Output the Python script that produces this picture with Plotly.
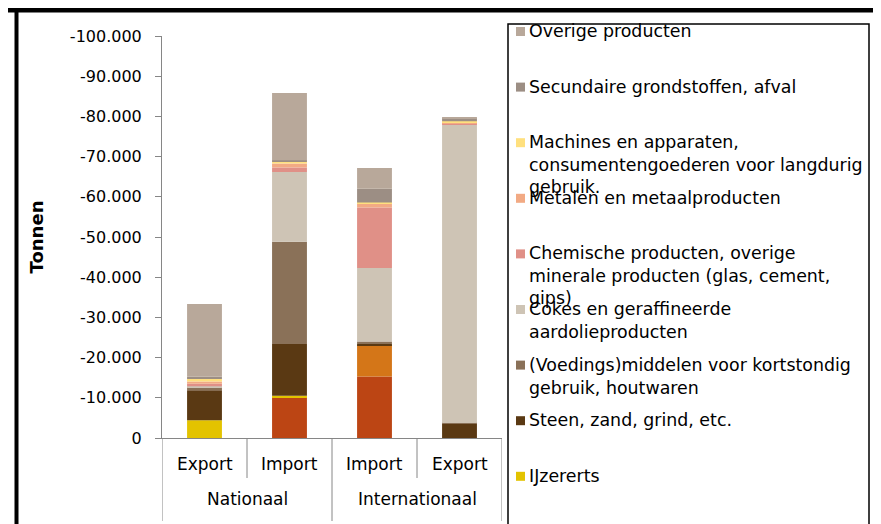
import plotly.graph_objects as go

# categories (two-level axis)
groups = ["Nationaal", "Internationaal"]
flows = ["Export", "Import", "Import", "Export"]
cats = ["Nationaal Export", "Nationaal Import", "Internationaal Import", "Internationaal Export"]

# series, bottom of the stack first (values in tonnes, negative)
ruwe_olie = [0, -10100, -15300, 0]
kolen = [0, 0, -7600, 0]
ijzererts = [-4400, -400, -100, 0]
steen = [-7450, -12900, -400, -3500]
voeding = [-750, -25400, -600, -250]
cokes = [-250, -17400, -18300, -74150]
chemisch = [-650, -1100, -15050, -300]
metalen = [-580, -1000, -1000, -250]
machines = [-600, -570, -250, -350]
secundair = [-570, -250, -3400, -800]
overig = [-18100, -16700, -5150, -150]

y_ticks = [0, -10000, -20000, -30000, -40000, -50000, -60000, -70000, -80000, -90000, -100000]
y_labels = ["0", "-10.000", "-20.000", "-30.000", "-40.000", "-50.000",
            "-60.000", "-70.000", "-80.000", "-90.000", "-100.000"]

series = [
    ("Ruwe aardolie", ruwe_olie, "#BC4514", False),
    ("Kolen", kolen, "#D47618", False),
    ("IJzererts", ijzererts, "#E3C300", True),
    ("Steen, zand, grind, etc.", steen, "#5A3913", True),
    ("(Voedings)middelen voor kortstondig<br>gebruik, houtwaren", voeding, "#8A7158", True),
    ("Cokes en geraffineerde<br>aardolieproducten", cokes, "#CEC4B5", True),
    ("Chemische producten, overige<br>minerale producten (glas, cement,<br>gips)", chemisch, "#E09087", True),
    ("Metalen en metaalproducten", metalen, "#F2AA84", True),
    ("Machines en apparaten,<br>consumentengoederen voor langdurig<br>gebruik.", machines, "#FFE07E", True),
    ("Secundaire grondstoffen, afval", secundair, "#9C8E84", True),
    ("Overige producten", overig, "#B8A89A", True),
]

FONT = "DejaVu Sans"

fig = go.Figure()
for name, vals, col, _ in series:
    fig.add_trace(go.Bar(x=cats, y=vals, name=name.replace("<br>", " "),
                         marker=dict(color=col, line=dict(width=0)), showlegend=False))

# page pixels (the page has an 8px body margin): plot area x 162..502, y 36..438
OFF = 8
L, R, T, B = 162, 502, 36, 438
W, H = 881 - OFF, 524 - OFF
def xp(px):
    return (px - L) / (R - L)
def yp(py):
    return (B - py) / (B - T)

shapes = []
annotations = []

# category dividers and labels of the two-level axis
for i, long in [(-0.5, True), (0.5, False), (1.5, True), (2.5, False), (3.5, True)]:
    shapes.append(dict(type="line", xref="x", yref="paper", x0=i, x1=i,
                       y0=yp(438), y1=yp(521 if long else 478),
                       line=dict(color="#868686", width=1)))
for c, f in zip(cats, flows):
    annotations.append(dict(text=f, xref="x", yref="paper", x=c, y=yp(464), yanchor="middle",
                            showarrow=False, font=dict(family=FONT, size=17, color="black")))
for k, g in enumerate(groups):
    annotations.append(dict(text=g, xref="x", yref="paper", x=0.5 + 2 * k, y=yp(499),
                            yanchor="middle", showarrow=False,
                            font=dict(family=FONT, size=17, color="black")))

# hand-drawn legend (fixed row spacing like the original)
shapes.append(dict(type="rect", xref="paper", yref="paper", x0=xp(508), x1=xp(869),
                   y0=yp(530), y1=yp(24), line=dict(color="black", width=1.5),
                   fillcolor="rgba(0,0,0,0)"))
legend_items = [s for s in series[::-1] if s[3]]
for i, (name, vals, col, _) in enumerate(legend_items):
    yc = 31.5 + 55.6 * i
    shapes.append(dict(type="rect", xref="paper", yref="paper", x0=xp(516), x1=xp(525),
                       y0=yp(yc + 4.5), y1=yp(yc - 4.5), line=dict(width=0), fillcolor=col))
    annotations.append(dict(text=name, xref="paper", yref="paper", x=xp(527), y=yp(yc - 12.5),
                            xanchor="left", yanchor="top", align="left", showarrow=False,
                            font=dict(family=FONT, size=17.4, color="black")))

# page frame from the original screenshot
shapes.append(dict(type="rect", xref="paper", yref="paper", x0=xp(0), x1=xp(881),
                   y0=yp(12.5), y1=yp(7), line=dict(width=0), fillcolor="black"))
shapes.append(dict(type="rect", xref="paper", yref="paper", x0=xp(14.5), x1=xp(18.5),
                   y0=yp(530), y1=yp(7), line=dict(width=0), fillcolor="black"))

fig.update_layout(
    barmode="relative",
    bargap=0.59,
    width=W, height=H,
    margin=dict(l=L - OFF, r=W - (R - OFF), t=T - OFF, b=H - (B - OFF), pad=0),
    plot_bgcolor="white", paper_bgcolor="white",
    font=dict(family=FONT, size=16, color="black"),
    shapes=shapes,
    annotations=annotations,
    showlegend=False,
)
fig.update_yaxes(range=[0, -100000], tickvals=y_ticks, ticktext=y_labels,
                 showgrid=False, zeroline=False, showline=True, linecolor="#868686",
                 linewidth=1, ticks="outside", ticklen=6, tickcolor="#868686",
                 ticklabelstandoff=10,
                 title=dict(text="<b>Tonnen</b>", font=dict(family=FONT, size=18), standoff=21))
fig.update_xaxes(type="category", range=[-0.5, 3.5], showgrid=False, showline=True,
                 linecolor="#868686", ticks="", showticklabels=False)

fig.write_html("out.html")
